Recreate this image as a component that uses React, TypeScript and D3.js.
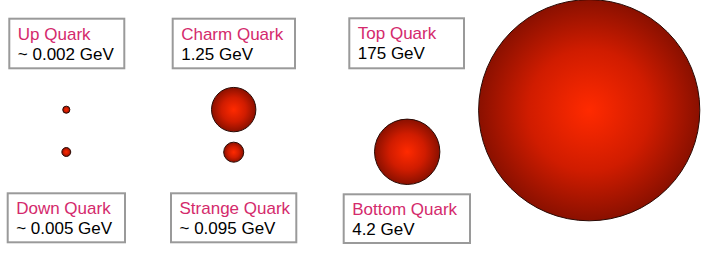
import React from "react";
import * as d3 from "d3";

// ---- data ----
const quarkNames = ["Up Quark", "Down Quark", "Charm Quark", "Strange Quark", "Top Quark", "Bottom Quark"];
const massLabels = ["~ 0.002 GeV", "~ 0.005 GeV", "1.25 GeV", "~ 0.095 GeV", "175 GeV", "4.2 GeV"];
const massesGeV = [0.002, 0.005, 1.25, 0.095, 175, 4.2];

// ---- layout (not data) ----
const W = 711;
const H = 270;
// circle centre positions per quark
const circlePos: Record<string, [number, number]> = {
  "Up Quark": [66.3, 109.7],
  "Down Quark": [66.3, 152],
  "Charm Quark": [233.7, 109.6],
  "Strange Quark": [233.7, 152.2],
  "Top Quark": [589.2, 110.2],
  "Bottom Quark": [407.2, 151.8],
};
// label box: x, y, w, h
const boxPos: Record<string, [number, number, number, number]> = {
  "Up Quark": [9.3, 18.7, 115, 49.6],
  "Down Quark": [7.7, 193.3, 117.3, 49],
  "Charm Quark": [172.7, 18.7, 122.3, 49.6],
  "Strange Quark": [171, 193.3, 125.3, 49],
  "Top Quark": [349.3, 18.3, 114.7, 50],
  "Bottom Quark": [343.7, 194.3, 126.3, 48.7],
};

const rScale = d3.scalePow().exponent(1 / 3).domain([0, 175]).range([1.1, 110.6]);

export default function App() {
  const font = "'Liberation Sans', Arial, sans-serif";
  return (
    <svg
      width={W}
      height={H}
      style={{ position: "absolute", left: 0, top: 0, background: "#fff" }}
    >
      <defs>
        <radialGradient id="quarkGrad" cx="50%" cy="50%" r="50%">
          <stop offset="0%" stopColor="#ff2a00" />
          <stop offset="55%" stopColor="#d01c00" />
          <stop offset="100%" stopColor="#8a1000" />
        </radialGradient>
      </defs>
      {quarkNames.map((name, i) => {
        const [cx, cy] = circlePos[name];
        return (
          <circle
            key={"c" + name}
            cx={cx}
            cy={cy}
            r={rScale(massesGeV[i])}
            fill="url(#quarkGrad)"
            stroke="#2a0a05"
            strokeWidth={1}
          />
        );
      })}
      {quarkNames.map((name, i) => {
        const [x, y, w, h] = boxPos[name];
        return (
          <g key={"b" + name}>
            <rect x={x} y={y} width={w} height={h} fill="#fff" stroke="#9a9a9a" strokeWidth={2} />
            <text x={x + 8.5} y={y + 20.8} fontFamily={font} fontSize={17} fill="#d42a6c">
              {name}
            </text>
            <text x={x + 8.5} y={y + 40.8} fontFamily={font} fontSize={17} fill="#000">
              {massLabels[i]}
            </text>
          </g>
        );
      })}
    </svg>
  );
}
